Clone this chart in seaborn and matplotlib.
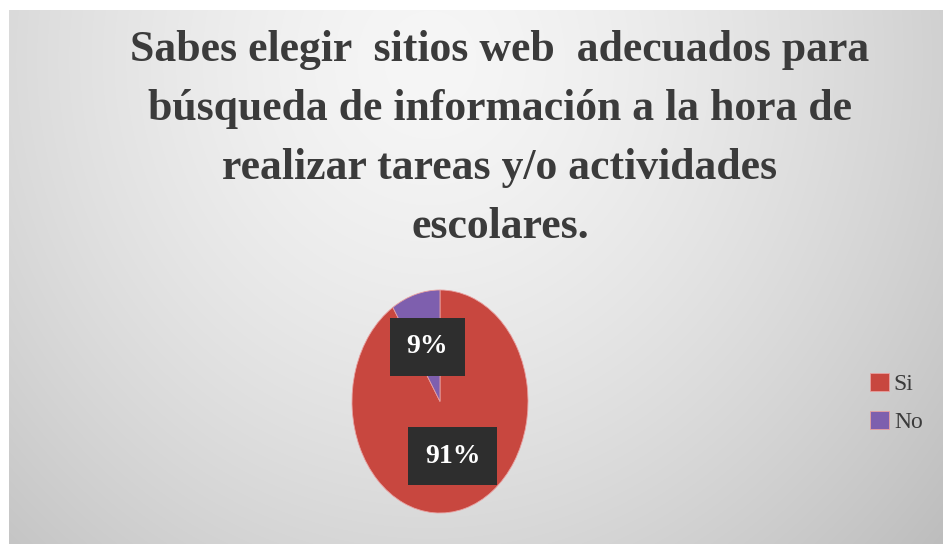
import numpy as np
import matplotlib
matplotlib.use("Agg")
import matplotlib.pyplot as plt
import seaborn as sns

# ---- data ----
categories = ["Si", "No"]
values = [91, 9]
title_lines = [
    "Sabes elegir  sitios web  adecuados para",
    "búsqueda de información a la hora de",
    "realizar tareas y/o actividades",
    "escolares.",
]
colors = ["#c8473f", "#7e5fae"]

sns.set_theme(style="white")
plt.rcParams["font.family"] = ["Liberation Serif", "DejaVu Serif"]

W, H = 943, 544
fig = plt.figure(figsize=(W / 100, H / 100), dpi=100)
fig.patch.set_facecolor("white")

# background gradient panel
bx0, by0 = 9, 10  # image px of panel top-left
bg = fig.add_axes([bx0 / W, 0, (W - bx0) / W, (H - by0) / H])
yy, xx = np.mgrid[by0:H, bx0:W]
d = np.sqrt(((xx - 430) / 520.0) ** 2 + ((yy - 60) / 560.0) ** 2)
v = (246 - 38 * d ** 1.5) / 255.0
img = np.dstack([v, v, v])
bg.imshow(img, aspect="auto", extent=[0, 1, 0, 1], origin="upper")
bg.set_axis_off()

# title
fs = 31.5
for i, line in enumerate(title_lines):
    ybase = 61 + i * 59
    fig.text(500 / W, 1 - ybase / H, line, ha="center", va="baseline",
             fontsize=fs, fontweight="bold", color="#3b3b3b")

# pie (elliptical)
cx, cy, rx, ry = 440, 401.5, 88, 111.5
ax = fig.add_axes([(cx - rx) / W, 1 - (cy + ry) / H, 2 * rx / W, 2 * ry / H])
wedges, texts, autotexts = ax.pie(
    values, colors=colors, startangle=90, counterclock=False,
    autopct=lambda p: f"{p:.0f}%", pctdistance=0.51,
    wedgeprops=dict(edgecolor="#e8a0a0", linewidth=0.6),
    textprops=dict(color="white", fontsize=20, fontweight="bold"),
)
for t in autotexts:
    t.set_bbox(dict(boxstyle="square,pad=0.6", facecolor="#2e2e2e", edgecolor="none"))
ax.set_aspect("auto")
ax.set_xlim(-1, 1)
ax.set_ylim(-1, 1)
ax.set_axis_off()

# legend
leg = fig.legend(wedges, categories, loc="center left",
                 bbox_to_anchor=(849 / W, 1 - 403 / H), frameon=False,
                 fontsize=17, handlelength=0.8, handleheight=0.8,
                 handletextpad=0.2, labelspacing=0.65)
for t in leg.get_texts():
    t.set_color("#3b3b3b")

fig.savefig("out.png", dpi=100)
